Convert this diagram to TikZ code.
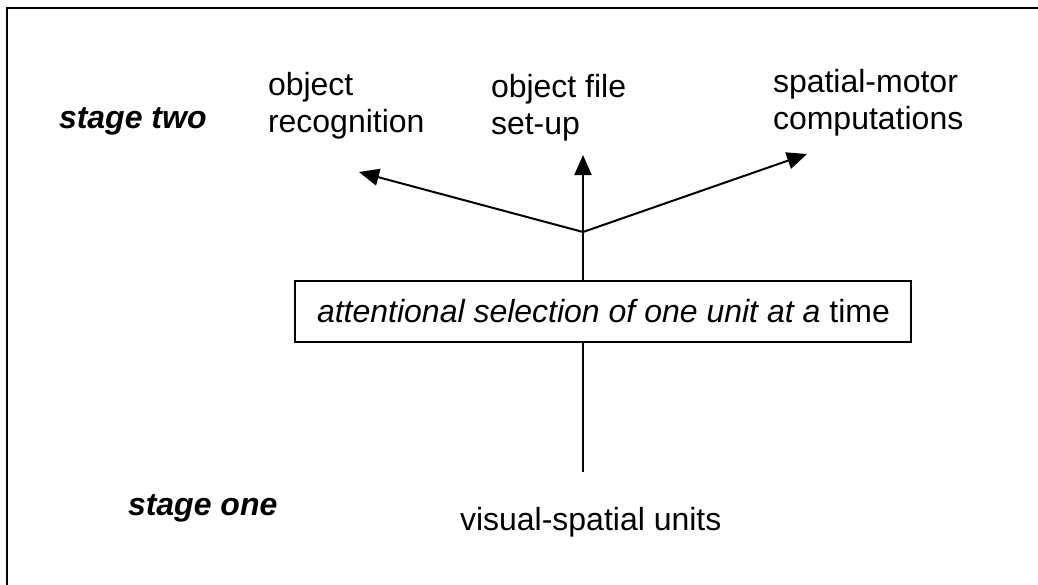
\documentclass[tikz,border=0pt]{standalone}
\usepackage{fontspec}
\setmainfont{Liberation Sans}
\usetikzlibrary{arrows.meta}
\begin{document}
\begin{tikzpicture}[x=0.5pt,y=-0.5pt,
  every node/.style={inner sep=0pt,outer sep=0pt,font=\fontsize{16}{18.5}\selectfont},
  label/.style={anchor=base west,align=left},
  stagelabel/.style={anchor=base west,font=\fontsize{16}{18.5}\selectfont\bfseries\itshape},
  link/.style={line width=1pt},
  arrowlink/.style={line width=1pt,-{Triangle[length=10pt,width=8.5pt]}}]
\useasboundingbox (0,0) rectangle (1038,584);
% outer frame
\begin{scope}
  \clip (0,0) rectangle (1038,584);
  \draw[line width=1pt] (7,8) rectangle (1060,600);
\end{scope}
% stage labels
\node[stagelabel] (two) at (59,128) {stage two};
\node[stagelabel] (one) at (128,515) {stage one};
% stage-two outputs (anchored at the baseline of the last line)
\node[label] (recog) at (268,132) {object\\recognition};
\node[label] (ofile) at (491,134) {object file\\set-up};
\node[label] (motor) at (773,129) {spatial-motor\\computations};
% selection box
\node[draw,line width=1pt,anchor=north west,minimum width=308pt,minimum height=30.5pt] (sel) at (295,281) {};
\node[anchor=base west] (seltext) at (317,322) {\itshape attentional selection of one unit at a\upshape\ time};
% stage-one input
\node[anchor=base west] (units) at (460,530) {visual-spatial units};
% connectors
\coordinate (in) at (583,472);
\coordinate (fork) at (583,232);
\coordinate (tipL) at (359,172);
\coordinate (tipM) at (583,155);
\coordinate (tipR) at (807,154);
\draw[link] (in) -- (in |- sel.south);
\draw[link] (sel.north -| fork) -- (fork);
\draw[arrowlink] (fork) -- (tipM);
\draw[arrowlink] (fork) -- (tipL);
\draw[arrowlink] (fork) -- (tipR);
\end{tikzpicture}
\end{document}
